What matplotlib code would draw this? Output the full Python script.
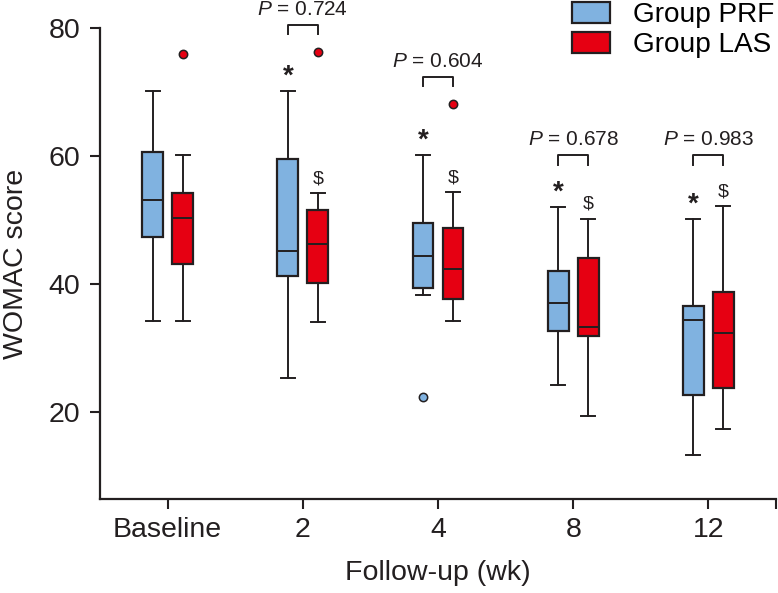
import numpy as np
import matplotlib
matplotlib.use("Agg")
import matplotlib.pyplot as plt
from matplotlib.patches import Patch

plt.rcParams['font.family'] = ['Liberation Sans', 'DejaVu Sans']
plt.rcParams['mathtext.fontset'] = 'custom'
plt.rcParams['mathtext.it'] = 'Liberation Sans:italic'
plt.rcParams['mathtext.rm'] = 'Liberation Sans'

# follow-up time points
categories = ['Baseline', '2', '4', '8', '12']

# box statistics (WOMAC score)
prf_whislo = [34.2, 25.3, 38.3, 24.2, 13.3]
prf_q1 = [47.4, 41.3, 39.3, 32.7, 22.7]
prf_med = [53.2, 45.2, 44.3, 37.1, 34.3]
prf_q3 = [60.6, 59.5, 49.6, 42.1, 36.6]
prf_whishi = [70.2, 70.2, 60.2, 52.1, 50.2]
prf_fliers = [[], [], [22.3], [], []]

las_whislo = [34.2, 34.1, 34.2, 19.3, 17.3]
las_q1 = [43.2, 40.2, 37.6, 31.8, 23.8]
las_med = [50.3, 46.2, 42.3, 33.3, 32.3]
las_q3 = [54.2, 51.6, 48.7, 44.1, 38.7]
las_whishi = [60.1, 54.2, 54.3, 50.2, 52.2]
las_fliers = [[76.0], [76.2], [68.1], [], []]

# between-group comparisons (week 2 onward)
p_labels = ['0.724', '0.604', '0.678', '0.983']
bracket_y = [80.5, 72.4, 60.1, 60.1]

blue = '#80b2e0'
red = '#e60012'
dark = '#231f20'


def make_stats(lo, q1, med, q3, hi, fl):
    return [dict(whislo=a, q1=b, med=c, q3=d, whishi=e, fliers=f)
            for a, b, c, d, e, f in zip(lo, q1, med, q3, hi, fl)]


def draw_boxes(ax, stats, positions, color):
    ax.bxp(stats, positions=positions, widths=0.155, capwidths=0.104,
           patch_artist=True, manage_ticks=False,
           boxprops=dict(facecolor=color, edgecolor=dark, linewidth=1.6),
           medianprops=dict(color=dark, linewidth=1.4),
           whiskerprops=dict(color=dark, linewidth=1.4),
           capprops=dict(color=dark, linewidth=1.4),
           flierprops=dict(marker='o', markerfacecolor=color, markeredgecolor=dark,
                           markersize=6, markeredgewidth=1.1))


fig = plt.figure(figsize=(7.78, 5.93), dpi=100)
ax = fig.add_axes([100 / 778, 1 - 499 / 593, 676 / 778, 471 / 593])

pos = np.arange(1, len(categories) + 1)
off = 0.111
draw_boxes(ax, make_stats(prf_whislo, prf_q1, prf_med, prf_q3, prf_whishi, prf_fliers), pos - off, blue)
draw_boxes(ax, make_stats(las_whislo, las_q1, las_med, las_q3, las_whishi, las_fliers), pos + off, red)

# significance marks vs baseline
for i in range(1, len(categories)):
    ax.annotate('*', xy=(pos[i] - off, prf_whishi[i]), xytext=(0, 5), textcoords='offset points',
                ha='center', va='baseline', fontsize=20, fontweight='bold', color=dark)
    ax.annotate(r'\$', xy=(pos[i] + off, las_whishi[i]), xytext=(0, 7), textcoords='offset points',
                ha='center', va='baseline', fontsize=14, color=dark)

# P-value brackets
for i, (p, yb) in enumerate(zip(p_labels, bracket_y)):
    x = pos[i + 1]
    ax.plot([x - off, x - off, x + off, x + off], [yb - 1.5, yb, yb, yb - 1.5],
            color=dark, lw=1.4, clip_on=False)
    ax.annotate(r'$\mathit{P}$ = ' + p, xy=(x, yb), xytext=(0, 7.2), textcoords='offset points',
                ha='center', va='baseline', fontsize=15, color=dark, annotation_clip=False)

ax.set_xlim(0.5, 5.5)
ax.set_ylim(6.4, 80)
ax.set_xticks(list(pos) + [5.5])
ax.set_xticklabels(categories + [''])
ax.set_yticks([20, 40, 60, 80])

for s in ['top', 'right']:
    ax.spines[s].set_visible(False)
for s in ['left', 'bottom']:
    ax.spines[s].set_linewidth(1.6)
    ax.spines[s].set_color(dark)

ax.tick_params(axis='both', direction='out', length=7.2, width=1.5, colors=dark, labelsize=20.5)
ax.tick_params(axis='y', pad=7)
ax.tick_params(axis='x', pad=6)

ax.set_xlabel('Follow-up (wk)', fontsize=20.5, color=dark, labelpad=12)
ax.set_ylabel('WOMAC score', fontsize=20.5, color=dark, labelpad=14)

handles = [Patch(facecolor=blue, edgecolor=dark, linewidth=1.6, label='Group PRF'),
           Patch(facecolor=red, edgecolor=dark, linewidth=1.6, label='Group LAS')]
fig.legend(handles=handles, loc='upper left', bbox_to_anchor=(572 / 778, 1 - 2 / 593), frameon=False,
           fontsize=20.2, handlelength=1.36, handleheight=0.75, handletextpad=0.8,
           labelspacing=0.15, borderpad=0, borderaxespad=0)

fig.savefig('out.png', dpi=100)
